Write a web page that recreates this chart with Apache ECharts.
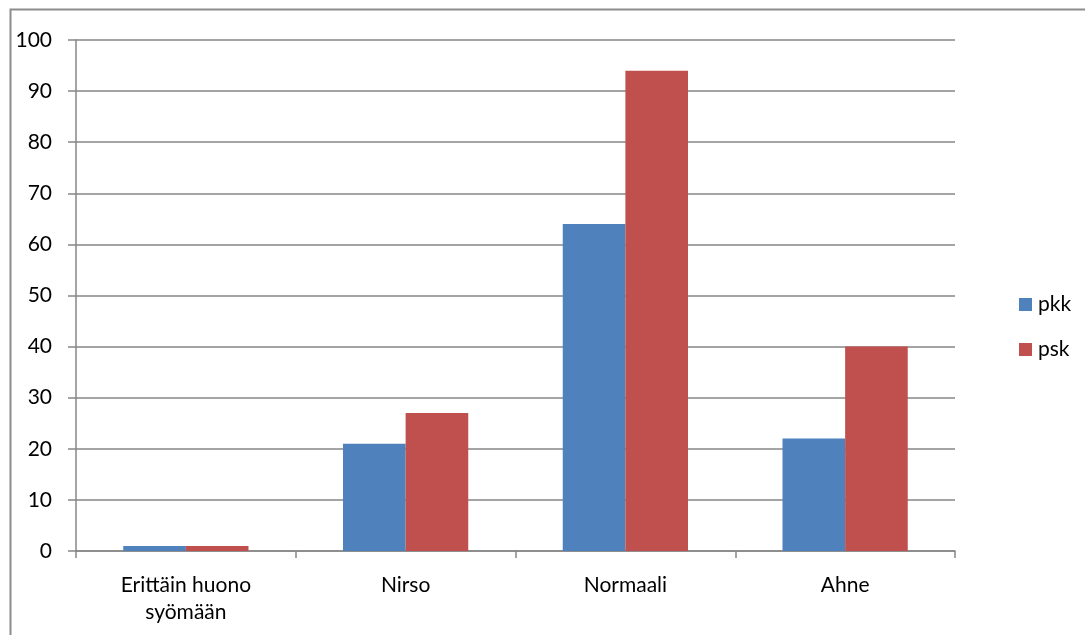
<!DOCTYPE html>
<html>
<head>
<meta charset="utf-8">
<script src="https://cdn.jsdelivr.net/npm/echarts@6/dist/echarts.min.js"></script>
<style>
html,body{margin:0;padding:0;background:#fff;}
#main{width:1085px;height:635px;}
</style>
</head>
<body>
<div id="main"></div>
<script>
const categories = ['Erittäin huono\nsyömään', 'Nirso', 'Normaali', 'Ahne'];
const pkk = [1, 21, 64, 22];
const psk = [1, 27, 94, 40];
const yTicks = { min: 0, max: 100, interval: 10 };

const chart = echarts.init(document.getElementById('main'), null, { renderer: 'canvas' });
const font = 'Lato, "Open Sans", "Liberation Sans", sans-serif';
const axisGray = '#868686';
chart.setOption({
  animation: false,
  backgroundColor: '#ffffff',
  textStyle: { fontFamily: font },
  graphic: [{
    type: 'rect',
    shape: { x: 10.5, y: 9.5, width: 1200, height: 800 },
    style: { fill: null, stroke: '#8c8c8c', lineWidth: 2 },
    silent: true
  }],
  grid: { left: 76, top: 40, right: 130, bottom: 84, containLabel: false },
  legend: {
    orient: 'vertical',
    left: 1014,
    top: 289,
    itemWidth: 13,
    itemHeight: 13,
    itemGap: 24,
    icon: 'rect',
    textStyle: { fontSize: 21, lineHeight: 21, color: '#000', fontFamily: font, padding: [0, 0, 0, 1] },
    data: ['pkk', 'psk']
  },
  xAxis: {
    type: 'category',
    data: categories,
    axisLine: { lineStyle: { color: axisGray, width: 1.5 } },
    axisTick: { show: true, alignWithLabel: false, length: 7, lineStyle: { color: axisGray, width: 1.5 } },
    axisLabel: { fontSize: 21, color: '#000', margin: 21, lineHeight: 27, fontFamily: font, interval: 0 },
    splitLine: { show: false }
  },
  yAxis: {
    type: 'value',
    min: yTicks.min,
    max: yTicks.max,
    interval: yTicks.interval,
    axisLine: { show: true, lineStyle: { color: axisGray, width: 1.5 } },
    axisTick: { show: true, inside: false, length: 8, lineStyle: { color: axisGray, width: 1.5 } },
    axisLabel: { fontSize: 21, color: '#000', margin: 24, fontFamily: font },
    splitLine: { show: true, lineStyle: { color: axisGray, width: 1.5 } }
  },
  series: [
    {
      name: 'pkk', type: 'bar', data: pkk,
      itemStyle: { color: '#4F81BD' },
      barGap: '0%', barCategoryGap: '43%'
    },
    {
      name: 'psk', type: 'bar', data: psk,
      itemStyle: { color: '#C0504D' },
      barGap: '0%', barCategoryGap: '43%'
    }
  ]
});
</script>
</body>
</html>
